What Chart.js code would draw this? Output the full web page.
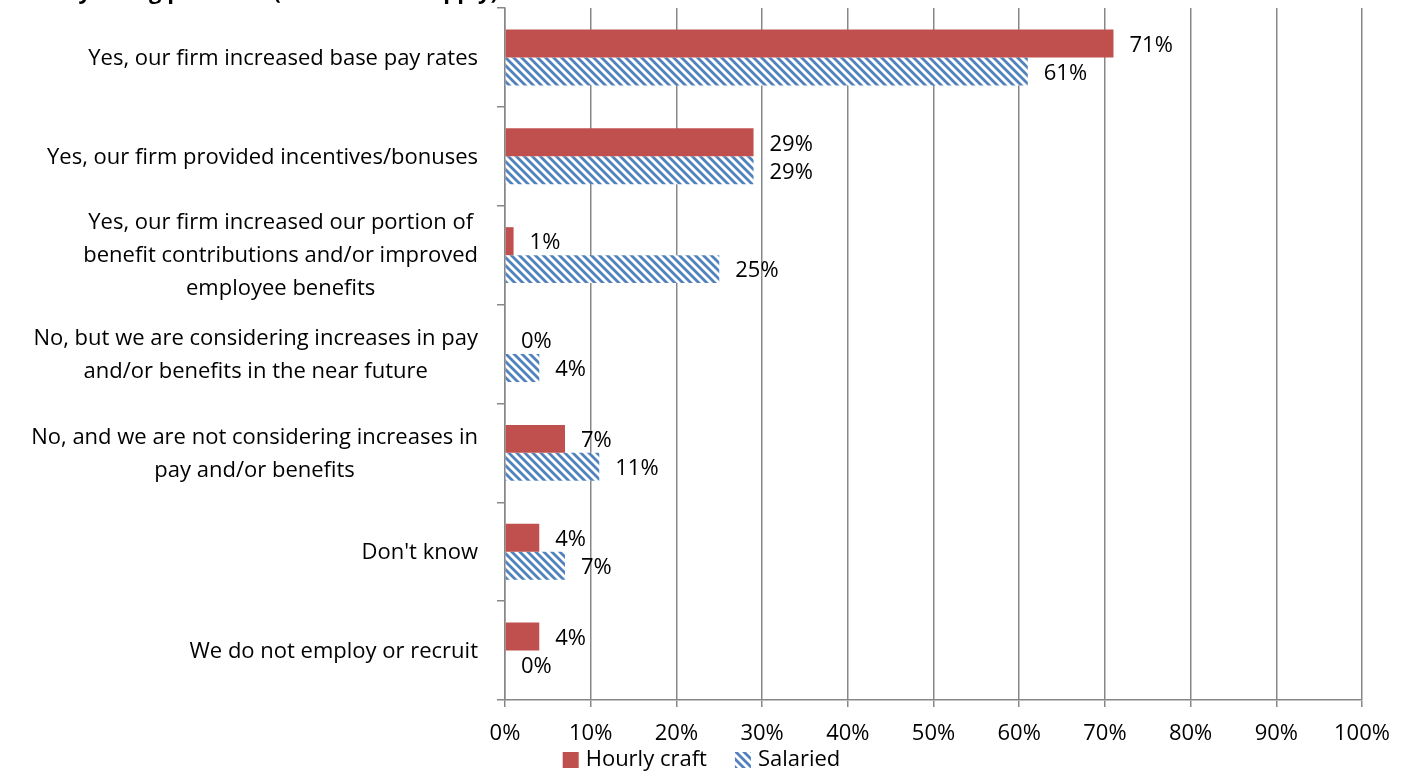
<!DOCTYPE html>
<html>
<head>
<meta charset="utf-8">
<script src="https://cdn.jsdelivr.net/npm/chart.js@4.4.1/dist/chart.umd.min.js"></script>
<style>
  html, body { margin: 0; padding: 0; background: #fff; overflow: hidden; }
  #wrap { position: relative; width: 1411px; height: 771px; overflow: hidden; }
  #title { position: absolute; left: 14px; top: -25px; line-height: 26px; font: bold 22px 'Open Sans', sans-serif; white-space: nowrap; color: #000; }
</style>
</head>
<body>
<div id="wrap">
  <canvas id="chart" width="1411" height="771"></canvas>
  <div id="title">for key hiring positions (mark all that apply)?</div>
</div>
<script>
// categories (one array per line of the label)
const categories = [
  ["Yes, our firm increased base pay rates"],
  ["Yes, our firm provided incentives/bonuses"],
  ["Yes, our firm increased our portion of", "benefit contributions and/or improved", "employee benefits"],
  ["No, but we are considering increases in pay", "and/or benefits in the near future"],
  ["No, and we are not considering increases in", "pay and/or benefits"],
  ["Don't know"],
  ["We do not employ or recruit"]
];
const hourlyCraft = [71, 29, 1, 0, 7, 4, 4];
const salaried = [61, 29, 25, 4, 11, 7, 0];
const seriesNames = ["Hourly craft", "Salaried"];
const xTicks = [0, 10, 20, 30, 40, 50, 60, 70, 80, 90, 100];

const FONT = "'Open Sans', sans-serif";
const SIZE = 22;
const GRID = "#878787";

// downward diagonal hatch for the salaried bars
function hatch(color) {
  const c = document.createElement("canvas");
  c.width = 8; c.height = 8;
  const g = c.getContext("2d");
  g.fillStyle = "#fff";
  g.fillRect(0, 0, 8, 8);
  g.strokeStyle = color;
  g.lineWidth = 2.8;
  g.beginPath();
  g.moveTo(-2, -2); g.lineTo(10, 10);
  g.moveTo(-2, 6); g.lineTo(2, 10);
  g.moveTo(6, -2); g.lineTo(10, 2);
  g.stroke();
  return g.createPattern(c, "repeat");
}

// value labels at the end of each bar
const valueLabels = {
  id: "valueLabels",
  afterDatasetsDraw(chart) {
    const ctx = chart.ctx;
    ctx.save();
    ctx.font = SIZE + "px " + FONT;
    ctx.fillStyle = "#000";
    ctx.textAlign = "left";
    ctx.textBaseline = "middle";
    chart.data.datasets.forEach((ds, i) => {
      chart.getDatasetMeta(i).data.forEach((bar, j) => {
        ctx.fillText(ds.data[j] + "%", bar.x + 16, bar.y + 2);
      });
    });
    ctx.restore();
  }
};

// category labels: each block right aligned, lines centred inside the block
const categoryLabels = {
  id: "categoryLabels",
  afterDraw(chart) {
    const ctx = chart.ctx;
    const y = chart.scales.y;
    const right = y.right - 27;
    const lh = 33;
    ctx.save();
    ctx.font = SIZE + "px " + FONT;
    ctx.fillStyle = "#000";
    ctx.textAlign = "center";
    ctx.textBaseline = "middle";
    categories.forEach((lines, i) => {
      const cy = y.getPixelForValue(i) + 1;
      const w = Math.max(...lines.map(l => ctx.measureText(l).width));
      const cx = right - w / 2;
      const top = cy - (lines.length - 1) * lh / 2;
      lines.forEach((l, k) => ctx.fillText(l, cx, top + k * lh));
    });
    ctx.restore();
  }
};

// legend row under the axis, centred on the canvas
const bottomLegend = {
  id: "bottomLegend",
  afterDraw(chart) {
    const ctx = chart.ctx;
    const box = 16, gap = 7, spacing = 28, cy = 760;
    ctx.save();
    ctx.font = SIZE + "px " + FONT;
    ctx.textBaseline = "middle";
    ctx.textAlign = "left";
    const items = chart.data.datasets.map(ds => ({ text: ds.label, fill: ds.backgroundColor, w: ctx.measureText(ds.label).width }));
    const total = items.reduce((s, it) => s + box + gap + it.w, 0) + spacing * (items.length - 1);
    let x = chart.width / 2 - total / 2 - 4;
    items.forEach(it => {
      ctx.fillStyle = it.fill;
      ctx.fillRect(x, cy - box / 2, box, box);
      x += box + gap;
      ctx.fillStyle = "#000";
      ctx.fillText(it.text, x, cy);
      x += it.w + spacing;
    });
    ctx.restore();
  }
};

new Chart(document.getElementById("chart"), {
  type: "bar",
  data: {
    labels: categories.map(c => c.join(" ")),
    datasets: [
      { label: seriesNames[0], data: hourlyCraft, backgroundColor: "#c0504d", borderWidth: 0 },
      { label: seriesNames[1], data: salaried, backgroundColor: hatch("#4f81bd"), borderWidth: 0 }
    ]
  },
  options: {
    indexAxis: "y",
    responsive: false,
    animation: false,
    layout: { padding: { top: 8, right: 49, bottom: 0, left: 0 } },
    datasets: { bar: { barPercentage: 1, categoryPercentage: 0.566 } },
    scales: {
      x: {
        min: 0,
        max: 100,
        afterBuildTicks(scale) { scale.ticks = xTicks.map(v => ({ value: v })); },
        afterFit(scale) { scale.height = 71; },
        grid: { color: GRID, lineWidth: 1.5, tickLength: 7 },
        border: { color: GRID, width: 1.5 },
        ticks: { color: "#000", font: { family: FONT, size: SIZE }, padding: 14, callback: v => v + "%" }
      },
      y: {
        afterFit(scale) { scale.width = 505; },
        grid: { color: GRID, lineWidth: 1.5, drawOnChartArea: false, tickLength: 8 },
        border: { color: GRID, width: 1.5 },
        ticks: { display: false }
      }
    },
    plugins: {
      legend: { display: false },
      tooltip: { enabled: false }
    }
  },
  plugins: [valueLabels, categoryLabels, bottomLegend]
});
</script>
</body>
</html>
